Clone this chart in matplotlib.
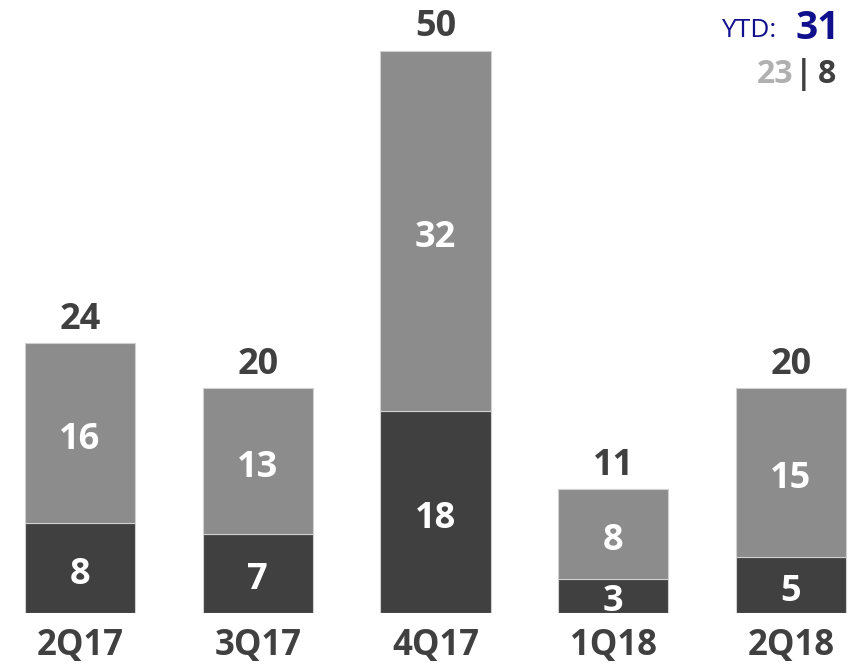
import matplotlib.pyplot as plt

plt.rcParams['font.family'] = ['Open Sans', 'DejaVu Sans']

quarters = ['2Q17', '3Q17', '4Q17', '1Q18', '2Q18']
bottom_vals = [8, 7, 18, 3, 5]
top_vals = [16, 13, 32, 8, 15]
totals = [24, 20, 50, 11, 20]

dark = '#404040'
gray = '#8c8c8c'
navy = '#10108c'

fig = plt.figure(figsize=(8.62, 6.69), dpi=100)
ax = fig.add_axes([0, 56 / 669, 1, 613 / 669])

x = list(range(len(quarters)))
w = 0.62
ax.bar(x, bottom_vals, width=w, color=dark, edgecolor='#d0d0d0', linewidth=0.8)
ax.bar(x, top_vals, width=w, bottom=bottom_vals, color=gray, edgecolor='#d0d0d0', linewidth=0.8)

for i in x:
    b = bottom_vals[i]
    t = top_vals[i]
    by = b / 2 - 0.6 if b > 4 else 1.0
    ax.text(i, by, str(b), ha='center', va='center', color='white',
            fontsize=26, fontweight='bold')
    ax.text(i, b + t / 2 - 0.6, str(t), ha='center', va='center', color='white',
            fontsize=26, fontweight='bold')
    ax.text(i, totals[i] + 0.5, str(totals[i]), ha='center', va='bottom',
            color=dark, fontsize=26, fontweight='bold')

ax.set_xlim(-0.45, 4.40)
ax.set_ylim(0, 613 / 11.24)
ax.set_xticks(x)
ax.set_xticklabels(quarters, fontsize=25, fontweight='bold', color=dark)
ax.tick_params(axis='x', length=0, pad=11)
ax.set_yticks([])
for s in ax.spines.values():
    s.set_visible(False)

# YTD box
fig.text(0.974, 0.958, '31', ha='right', va='center', color=navy,
         fontsize=28, fontweight='bold')
fig.text(0.9, 0.955, 'YTD:', ha='right', va='center', color=navy, fontsize=19)
fig.text(0.970, 0.888, '8', ha='right', va='center', color=dark,
         fontsize=23, fontweight='bold')
fig.text(0.932, 0.888, '|', ha='center', va='center', color=dark,
         fontsize=23, fontweight='bold')
fig.text(0.920, 0.888, '23', ha='right', va='center', color='#b0b0b0',
         fontsize=23, fontweight='bold')

fig.savefig('out.png', dpi=100)
